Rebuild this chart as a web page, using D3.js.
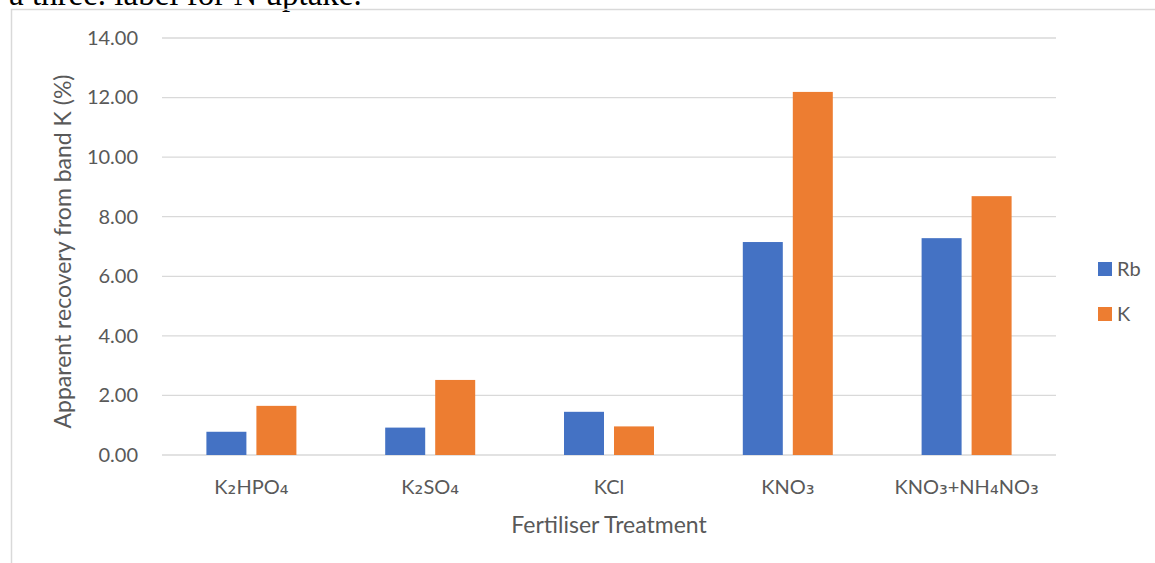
<!DOCTYPE html>
<html><head><meta charset="utf-8">
<script src="https://cdn.jsdelivr.net/npm/d3@7"></script>
<style>
html,body{margin:0;padding:0;background:#fff;}
svg{display:block;}
</style></head>
<body>
<svg id="c" width="1155" height="563"></svg>
<script>
const categories = ["K₂HPO₄", "K₂SO₄", "KCl", "KNO₃", "KNO₃+NH₄NO₃"];
const seriesNames = ["Rb", "K"];
const rbValues = [0.78, 0.92, 1.45, 7.15, 7.28];
const kValues = [1.65, 2.52, 0.96, 12.19, 8.69];
const yTicks = [0, 2, 4, 6, 8, 10, 12, 14];
const colors = ["#4472C4", "#ED7D31"];

const svg = d3.select("#c");
const font = "Lato, 'DejaVu Sans', sans-serif";

// page context text (cut-off caption above chart)
svg.append("text").attr("x", 9).attr("y", 5)
  .attr("font-family", "'Liberation Serif', 'DejaVu Serif', serif")
  .attr("font-size", 33).attr("fill", "#000")
  .text("a three. label for N uptake.");

// chart frame
svg.append("path").attr("d", "M11.5,563 L11.5,9.5 L1155,9.5")
  .attr("fill", "none").attr("stroke", "#d9d9d9").attr("stroke-width", 1.5);

const pLeft = 162, pRight = 1056, pTop = 38, pBottom = 455;
const x = d3.scaleBand().domain(categories).range([pLeft, pRight]);
const y = d3.scaleLinear().domain([0, 14]).range([pBottom, pTop]);

// gridlines
svg.append("g").selectAll("line").data(yTicks).join("line")
  .attr("x1", pLeft).attr("x2", pRight)
  .attr("y1", d => y(d)).attr("y2", d => y(d))
  .attr("stroke", "#d9d9d9").attr("stroke-width", 1.3);

// y axis labels
const yAxis = d3.axisLeft(y).tickValues(yTicks).tickFormat(d3.format(".2f")).tickSize(0).tickPadding(0);
const yg = svg.append("g").attr("transform", `translate(${138},0)`).call(yAxis);
yg.select(".domain").remove();
yg.selectAll("text").attr("font-family", font).attr("font-size", 20).attr("fill", "#595959");

// bars
const data = categories.map((c, i) => ({c, vals: [rbValues[i], kValues[i]]}));
const barW = 40, gap = 10;
const groups = svg.append("g").selectAll("g").data(data).join("g");
groups.selectAll("rect").data(d => d.vals.map((v, j) => ({c: d.c, v, j}))).join("rect")
  .attr("x", d => x(d.c) + x.bandwidth()/2 + (d.j === 0 ? -(barW + gap/2) : gap/2))
  .attr("width", barW)
  .attr("y", d => y(d.v))
  .attr("height", d => y(0) - y(d.v))
  .attr("fill", d => colors[d.j]);

// x axis labels (subscript glyphs drawn with DejaVu Sans for legibility)
const xAxis = d3.axisBottom(x).tickSize(0).tickPadding(0).tickFormat("");
const xg = svg.append("g").attr("transform", `translate(0,${494})`).call(xAxis);
xg.select(".domain").remove();
xg.selectAll(".tick text").each(function(d) {
  const t = d3.select(this).attr("font-family", font).attr("font-size", 20)
    .attr("fill", "#595959").attr("dy", 0).attr("text-anchor", "middle");
  const parts = d.match(/[₀-₉]+|[^₀-₉]+/g);
  parts.forEach(p => {
    const sub = /[₀-₉]/.test(p);
    const ts = t.append("tspan").text(p);
    if (sub) ts.attr("font-family", "'DejaVu Sans'").attr("font-size", 22);
  });
});

// axis titles
svg.append("text").attr("x", (pLeft + pRight) / 2).attr("y", 533)
  .attr("text-anchor", "middle").attr("font-family", font).attr("font-size", 23).attr("fill", "#595959")
  .text("Fertiliser Treatment");
svg.append("text").attr("transform", `translate(71,${(pTop + pBottom) / 2 + 5}) rotate(-90)`)
  .attr("text-anchor", "middle").attr("font-family", font).attr("font-size", 23).attr("fill", "#595959")
  .text("Apparent recovery from band K (%)");

// legend
const lg = svg.append("g").selectAll("g").data(seriesNames).join("g")
  .attr("transform", (d, i) => `translate(1098,${262 + i * 45})`);
lg.append("rect").attr("width", 14).attr("height", 14).attr("fill", (d, i) => colors[i]);
lg.append("text").attr("x", 19).attr("y", 14).attr("font-family", font).attr("font-size", 20).attr("fill", "#595959").text(d => d);
</script>
</body></html>
